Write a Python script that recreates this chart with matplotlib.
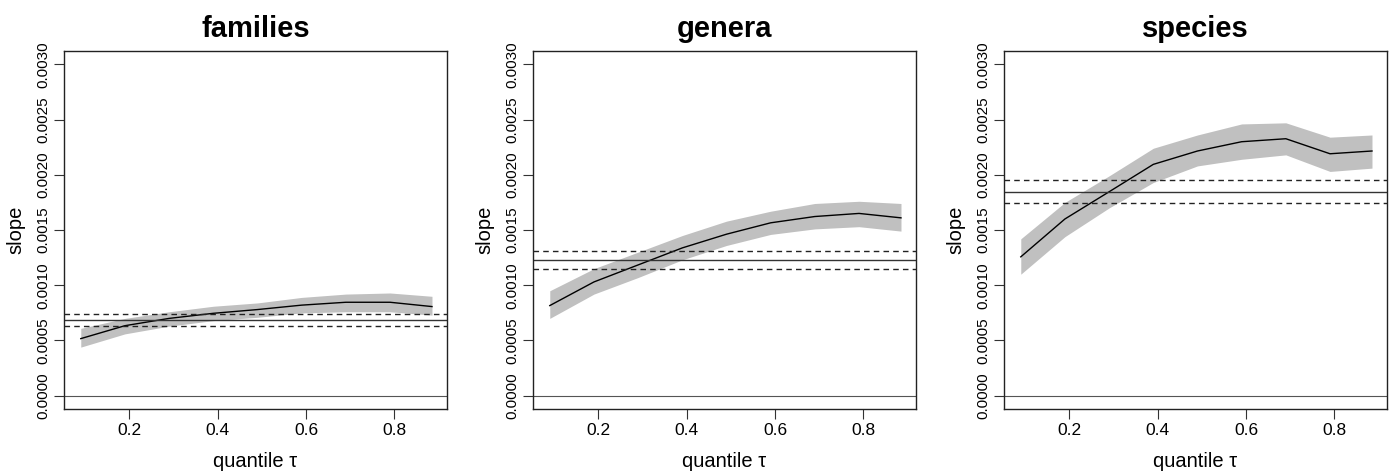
import numpy as np
import matplotlib
matplotlib.use('Agg')
import matplotlib.pyplot as plt

plt.rcParams['font.family'] = ['Liberation Sans', 'DejaVu Sans']

tau = [0.09, 0.19, 0.29, 0.39, 0.49, 0.59, 0.69, 0.79, 0.885]
titles = ['families', 'genera', 'species']

# slope estimate along tau, with lower / upper band
slope = [
    [0.000517, 0.000634, 0.000700, 0.000746, 0.000780, 0.000820, 0.000846, 0.000846, 0.000807],
    [0.000816, 0.001030, 0.001184, 0.001338, 0.001462, 0.001565, 0.001622, 0.001650, 0.001610],
    [0.001257, 0.001600, 0.001846, 0.002094, 0.002215, 0.002299, 0.002326, 0.002190, 0.002215],
]
lower = [
    [0.00044, 0.00056, 0.00063, 0.00068, 0.00071, 0.00075, 0.00076, 0.00076, 0.00073],
    [0.00070, 0.00092, 0.00107, 0.00123, 0.00136, 0.00146, 0.00151, 0.00153, 0.00149],
    [0.00110, 0.00144, 0.00170, 0.00193, 0.00208, 0.00214, 0.00218, 0.00203, 0.00206],
]
upper = [
    [0.00061, 0.00070, 0.00076, 0.00081, 0.00084, 0.00089, 0.00092, 0.00093, 0.00090],
    [0.00095, 0.00115, 0.00130, 0.00145, 0.00158, 0.00167, 0.00174, 0.00176, 0.00174],
    [0.00142, 0.00175, 0.00199, 0.00224, 0.00236, 0.00246, 0.00247, 0.00234, 0.00236],
]
# OLS slope and its interval (horizontal lines)
ols = [0.000686, 0.001227, 0.001843]
ols_lo = [0.000634, 0.001148, 0.001740]
ols_hi = [0.000740, 0.001308, 0.001949]

yticks = [0.0, 0.0005, 0.0010, 0.0015, 0.0020, 0.0025, 0.0030]
xticks = [0.2, 0.4, 0.6, 0.8]

W, H = 1393, 475
fig = plt.figure(figsize=(W / 100, H / 100), dpi=100)
lefts = [64, 533, 1004]
aw, top, bot = 383, 51, 409

for i in range(3):
    ax = fig.add_axes([lefts[i] / W, 1 - bot / H, aw / W, (bot - top) / H])
    ax.fill_between(tau, lower[i], upper[i], color='#c0c0c0', lw=0)
    ax.plot(tau, slope[i], color='black', lw=1.0)
    ax.axhline(0, color='#555555', lw=0.8)
    ax.axhline(ols[i], color='#333333', lw=1.0)
    ax.axhline(ols_lo[i], color='#222222', lw=1.0, ls=(0, (4, 3)))
    ax.axhline(ols_hi[i], color='#222222', lw=1.0, ls=(0, (4, 3)))

    ax.set_xlim(0.052, 0.919)
    ax.set_ylim(-0.00012, 0.00312)
    ax.set_xticks(xticks)
    ax.set_xticklabels([f'{t:.1f}' for t in xticks], fontsize=12.5)
    ax.set_yticks(yticks)
    ax.set_yticklabels([f'{t:.4f}' for t in yticks], fontsize=11,
                       rotation=90, va='center')
    ax.tick_params(direction='out', length=7, width=0.8, color='#333333', pad=3)
    for s in ax.spines.values():
        s.set_linewidth(1.0)
        s.set_color('#222222')

    ax.set_title(titles[i], fontsize=21, fontweight='bold', pad=10)
    ax.set_xlabel('quantile τ', fontsize=14.5, labelpad=10)
    ax.set_ylabel('slope', fontsize=14.5, labelpad=8)

fig.savefig('out.png', dpi=100)
